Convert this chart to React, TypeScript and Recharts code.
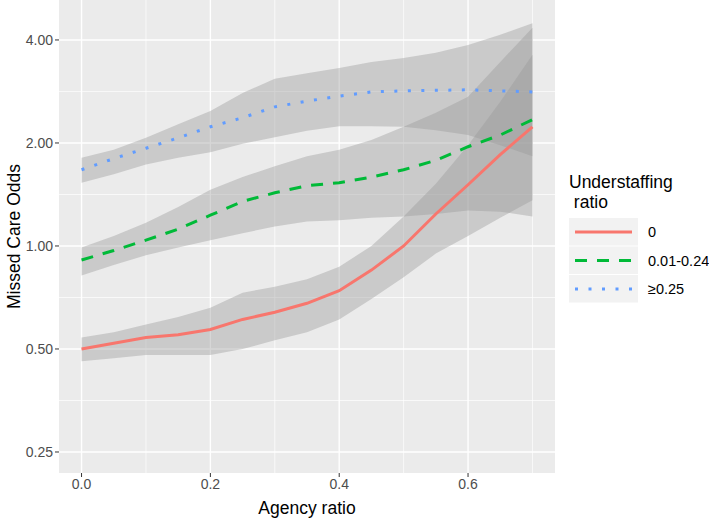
import { ComposedChart, Area, Line, XAxis, YAxis, CartesianGrid, Label } from "recharts";

// predicted odds by agency ratio
const agency = [0, 0.05, 0.1, 0.15, 0.2, 0.25, 0.3, 0.35, 0.4, 0.45, 0.5, 0.55, 0.6, 0.65, 0.7];

const fitNone = [0.5, 0.52, 0.54, 0.55, 0.57, 0.61, 0.64, 0.68, 0.74, 0.85, 1.0, 1.24, 1.51, 1.85, 2.23];
const loNone = [0.46, 0.47, 0.48, 0.48, 0.48, 0.5, 0.53, 0.56, 0.61, 0.7, 0.81, 0.95, 1.07, 1.21, 1.36];
const hiNone = [0.54, 0.56, 0.59, 0.62, 0.66, 0.73, 0.76, 0.8, 0.87, 1.0, 1.22, 1.52, 1.97, 2.64, 3.62];

const fitLow = [0.91, 0.97, 1.04, 1.12, 1.23, 1.35, 1.43, 1.5, 1.53, 1.59, 1.67, 1.78, 1.95, 2.11, 2.34];
const loLow = [0.82, 0.88, 0.94, 0.99, 1.04, 1.09, 1.14, 1.18, 1.19, 1.21, 1.22, 1.24, 1.27, 1.26, 1.22];
const hiLow = [0.99, 1.07, 1.17, 1.3, 1.46, 1.59, 1.71, 1.83, 1.91, 2.04, 2.23, 2.45, 2.73, 3.45, 4.34];

const fitHigh = [1.67, 1.8, 1.93, 2.07, 2.23, 2.37, 2.55, 2.65, 2.74, 2.82, 2.84, 2.85, 2.86, 2.84, 2.82];
const loHigh = [1.53, 1.62, 1.73, 1.81, 1.88, 1.99, 2.08, 2.17, 2.24, 2.24, 2.23, 2.18, 2.11, 1.97, 1.83];
const hiHigh = [1.81, 1.91, 2.07, 2.27, 2.48, 2.8, 3.08, 3.2, 3.31, 3.45, 3.54, 3.67, 3.87, 4.14, 4.48];

const groups = ["0", "0.01-0.24", "≥0.25"];
const xTicks = [0, 0.2, 0.4, 0.6];
const yTicks = [0.25, 0.5, 1, 2, 4];

const log2 = (v: number) => Math.log2(v);

const data = agency.map((x, i) => ({
    x,
    none: log2(fitNone[i]),
    noneBand: [log2(loNone[i]), log2(hiNone[i])],
    low: log2(fitLow[i]),
    lowBand: [log2(loLow[i]), log2(hiLow[i])],
    high: log2(fitHigh[i]),
    highBand: [log2(loHigh[i]), log2(hiHigh[i])],
}));

const series = [
    { key: "none", color: "#F8766D", dash: undefined },
    { key: "low", color: "#00BA38", dash: "12 10" },
    { key: "high", color: "#619CFF", dash: "3 10.5" },
];

const font = "'Liberation Sans', Arial, sans-serif";

function LegendBox() {
    return (
        <svg width={150} height={150} style={{ position: "absolute", left: 559, top: 165, overflow: "visible" }}>
            <text x={10} y={23} fontSize={17.5} fontFamily={font} fill="#000">Understaffing</text>
            <text x={10} y={43} fontSize={17.5} fontFamily={font} fill="#000" style={{ whiteSpace: "pre" }}>{" ratio"}</text>
            {groups.map((g, i) => (
                <g key={g} transform={`translate(10, ${53 + i * 28.5})`}>
                    <rect x={0} y={0} width={69} height={27.5} fill="#F2F2F2" />
                    <line
                        x1={6}
                        x2={63}
                        y1={14}
                        y2={14}
                        stroke={series[i].color}
                        strokeWidth={3}
                        strokeDasharray={series[i].dash}
                    />
                    <text x={79} y={19} fontSize={14.5} fontFamily={font} fill="#000">{g}</text>
                </g>
            ))}
        </svg>
    );
}

export default function App() {
    return (
        <div style={{ position: "absolute", left: 0, top: 0, width: 709, height: 518, fontFamily: font }}>
            <ComposedChart width={709} height={518} data={data} margin={{ top: 0, right: 154, left: 0, bottom: 0 }}>
                <CartesianGrid
                    fill="#EBEBEB"
                    stroke="#FFFFFF"
                    strokeWidth={0.7}
                    verticalValues={[0.1, 0.3, 0.5, 0.7]}
                    horizontalValues={[-1.5, -0.5, 0.5, 1.5]}
                />
                <CartesianGrid
                    stroke="#FFFFFF"
                    strokeWidth={1.4}
                    verticalValues={xTicks}
                    horizontalValues={yTicks.map(log2)}
                />
                <XAxis
                    dataKey="x"
                    type="number"
                    domain={[-0.035, 0.735]}
                    ticks={xTicks}
                    tickFormatter={(v: number) => v.toFixed(1)}
                    height={45}
                    axisLine={false}
                    tickSize={4}
                    tickLine={{ stroke: "#333333" }}
                    tick={{ fill: "#4D4D4D", fontSize: 14 }}
                >
                    <Label value="Agency ratio" position="insideBottom" offset={4} style={{ fontSize: 17.5, fill: "#000" }} />
                </XAxis>
                <YAxis
                    type="number"
                    domain={[-2.204, 2.388]}
                    ticks={yTicks.map(log2)}
                    tickFormatter={(v: number) => Math.pow(2, v).toFixed(2)}
                    width={59}
                    axisLine={false}
                    tickSize={4}
                    tickLine={{ stroke: "#333333" }}
                    tick={{ fill: "#4D4D4D", fontSize: 14 }}
                >
                    <Label
                        value="Missed Care Odds"
                        angle={-90}
                        position="insideLeft"
                        offset={14}
                        style={{ fontSize: 17.5, fill: "#000", textAnchor: "middle" }}
                    />
                </YAxis>
                {series.map((s) => [
                    <Area
                        key={s.key + "Band"}
                        dataKey={s.key + "Band"}
                        type="linear"
                        stroke="none"
                        fill="#999999"
                        fillOpacity={0.4}
                        isAnimationActive={false}
                    />,
                    <Line
                        key={s.key}
                        dataKey={s.key}
                        type="linear"
                        stroke={s.color}
                        strokeWidth={3}
                        strokeDasharray={s.dash}
                        dot={false}
                        activeDot={false}
                        isAnimationActive={false}
                    />,
                ])}
            </ComposedChart>
            <LegendBox />
        </div>
    );
}
